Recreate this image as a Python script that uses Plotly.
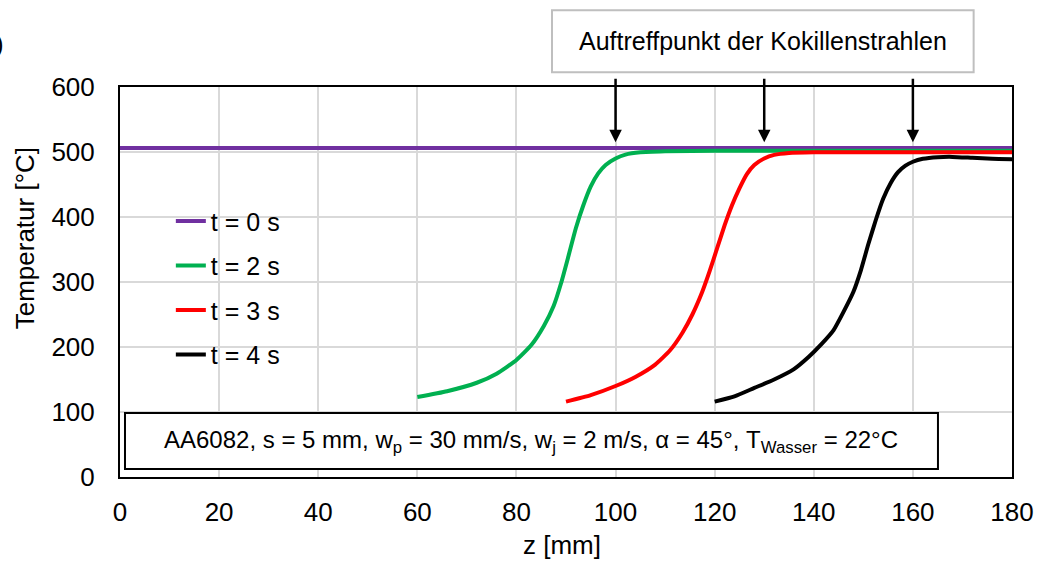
import plotly.graph_objects as go

# ---- data ----
z_t0 = [0, 180]
T_t0 = [506, 506]

z_t2 = [60, 66, 72, 76, 80, 83, 85.5, 87.5, 89, 90.5, 92, 93.5, 95, 96.5, 98, 100, 102, 105, 110, 120, 180]
T_t2 = [123, 132, 145, 159, 180, 203, 232, 263, 298, 340, 383, 418, 447, 467, 480, 490, 496, 499.5, 501, 502, 502]

z_t3 = [90, 95, 100, 104, 108, 111, 113.5, 115.5, 117.5, 119, 120.5, 122, 123.5, 125, 126.5, 128, 130, 132, 135, 140, 180]
T_t3 = [116, 126, 140, 154, 173, 195, 222, 250, 285, 317, 352, 387, 418, 444, 466, 480, 490, 495.5, 498.5, 499.5, 499.5]

z_t4 = [120, 124, 128, 132, 136, 139, 141.5, 144, 146, 148, 149.5, 151, 152.5, 154, 155.5, 157, 158.5,
        160, 162, 165, 168, 172, 176, 180]
T_t4 = [116, 124, 137, 150, 166, 185, 204, 226, 254, 285, 318, 358, 395, 428, 452, 469, 479,
        485, 489.5, 492, 492.5, 491, 489.5, 489]

series_names = ["t = 0 s", "t = 2 s", "t = 3 s", "t = 4 s"]
series_colors = ["#7030A0", "#00B050", "#FF0000", "#000000"]

arrow_z = [100, 130, 160]
x_ticks = list(range(0, 181, 20))
y_ticks = list(range(0, 601, 100))

FONT = "Liberation Sans, Arial, sans-serif"

fig = go.Figure()
for i, (xs, ys) in enumerate([(z_t0, T_t0), (z_t2, T_t2), (z_t3, T_t3), (z_t4, T_t4)]):
    fig.add_trace(go.Scatter(
        x=xs, y=ys, mode="lines", name=series_names[i],
        line=dict(color=series_colors[i], width=4, shape="spline", smoothing=0.5),
        legendgroup=f"g{i}",
    ))

annotations = []
for az in arrow_z:
    annotations.append(dict(
        x=az, y=515, xref="x", yref="y",
        ax=az, ay=615, axref="x", ayref="y",
        showarrow=True, arrowhead=2, arrowsize=1, arrowwidth=2.5, arrowcolor="black",
        text="",
    ))

# top callout text
annotations.append(dict(
    x=(0.4843 + 0.957) / 2, y=(1.197 + 1.038) / 2, xref="paper", yref="paper",
    text="Auftreffpunkt der Kokillenstrahlen", showarrow=False,
    font=dict(family=FONT, size=25, color="black"),
    xanchor="center", yanchor="middle",
))
# bottom parameter box text
annotations.append(dict(
    x=(0.0056 + 0.917) / 2, y=(0.0205 + 0.164) / 2, xref="paper", yref="paper",
    text="AA6082, s = 5 mm, w<sub>p</sub> = 30 mm/s, w<sub>j</sub> = 2 m/s, α = 45°, T<sub>Wasser</sub> = 22°C",
    showarrow=False, font=dict(family=FONT, size=24, color="black"),
    xanchor="center", yanchor="middle",
))
# axis titles
annotations.append(dict(
    x=-95 / 892, y=(477.7 - 239) / 390, xref="paper", yref="paper",
    text="Temperatur [°C]", textangle=-90, showarrow=False,
    font=dict(family=FONT, size=26, color="black"),
    xanchor="center", yanchor="middle",
))
annotations.append(dict(
    x=(562 - 120) / 892, y=-(546 - 477.7) / 390, xref="paper", yref="paper",
    text="z [mm]", showarrow=False,
    font=dict(family=FONT, size=26, color="black"),
    xanchor="center", yanchor="middle",
))
# cut-off panel label at the top-left edge
annotations.append(dict(
    x=-114 / 892, y=(477.7 - 45) / 390, xref="paper", yref="paper",
    text=")", showarrow=False, font=dict(family=FONT, size=26, color="black"),
    xanchor="right", yanchor="middle",
))

shapes = [
    dict(type="rect", xref="paper", yref="paper", x0=0.4843, x1=0.957, y0=1.038, y1=1.197,
         line=dict(color="#BFBFBF", width=2), fillcolor="white", layer="above"),
    dict(type="rect", xref="paper", yref="paper", x0=0.0056, x1=0.917, y0=0.0205, y1=0.164,
         line=dict(color="black", width=2), fillcolor="white", layer="above"),
]

fig.update_layout(
    width=1038, height=561, autosize=False,
    margin=dict(l=120, r=26, t=87, b=84, autoexpand=False),
    paper_bgcolor="white", plot_bgcolor="white",
    font=dict(family=FONT, size=26, color="black"),
    showlegend=True,
    legend=dict(
        x=0.057, y=0.715, xanchor="left", yanchor="top",
        bgcolor="rgba(0,0,0,0)", borderwidth=0,
        font=dict(family=FONT, size=25, color="black"),
        tracegroupgap=9,
    ),
    annotations=annotations,
    shapes=shapes,
)
fig.update_xaxes(
    range=[0, 180], tickvals=x_ticks, ticktext=[str(v) for v in x_ticks],
    showgrid=True, gridcolor="#D9D9D9", gridwidth=1.5,
    showline=True, linecolor="black", linewidth=2, mirror=True,
    ticks="", zeroline=False, ticklabelstandoff=11, automargin=False,
    tickfont=dict(family=FONT, size=26, color="black"),
)
fig.update_yaxes(
    range=[0, 600], tickvals=y_ticks, ticktext=[str(v) for v in y_ticks],
    showgrid=True, gridcolor="#D9D9D9", gridwidth=1.5,
    showline=True, linecolor="black", linewidth=2, mirror=True,
    ticks="", zeroline=False, ticklabelstandoff=18, automargin=False,
    tickfont=dict(family=FONT, size=26, color="black"),
)

fig.write_html("out.html")
